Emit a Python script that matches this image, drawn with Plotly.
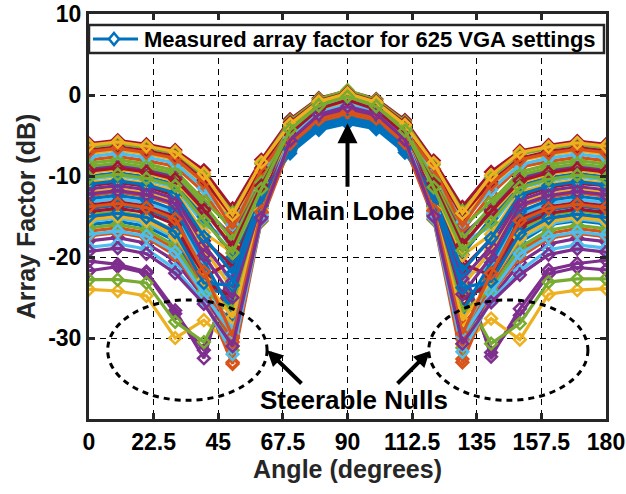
import plotly.graph_objects as go

# ---------------- data ----------------
angles = [0, 10, 20, 30, 40, 50, 60, 70, 80, 90, 100, 110, 120, 130, 140, 150, 160, 170, 180]

x_tick_vals = [0, 22.5, 45, 67.5, 90, 112.5, 135, 157.5, 180]
x_tick_text = ["0", "22.5", "45", "67.5", "90", "112.5", "135", "157.5", "180"]
y_tick_vals = [-30, -20, -10, 0, 10]
y_tick_text = ["-30", "-20", "-10", "0", "10"]

legend_name = "Measured array factor for 625 VGA settings"

# array factor (dB) of a subset of the measured VGA settings
vga_01 = [-9.0, -8.6, -9.1, -10.0, -14.0, -19.0, -12.5, -7.2, -4.3, -3.5, -4.2, -7.1, -12.3, -18.6, -14.3, -10.2, -9.2, -8.7, -9.1]
vga_02 = [-12.4, -12.0, -12.5, -13.6, -19.5, -33.0, -15.0, -6.5, -3.6, -2.6, -3.5, -6.4, -14.8, -32.6, -19.8, -13.8, -12.6, -12.1, -12.5]
vga_03 = [-7.2, -6.8, -7.3, -8.0, -11.0, -15.5, -9.5, -4.8, -2.0, -1.0, -1.9, -4.7, -9.3, -15.2, -11.2, -8.1, -7.4, -6.9, -7.3]
vga_04 = [-20.5, -20.9, -21.8, -26.6, -32.5, -20.5, -14.5, -6.0, -3.0, -2.0, -2.9, -5.9, -14.3, -20.8, -32.3, -26.4, -21.6, -20.8, -20.4]
vga_05 = [-14.8, -14.4, -15.0, -16.8, -23.5, -31.5, -15.6, -5.5, -1.5, -0.6, -1.6, -5.4, -15.4, -31.2, -23.2, -16.6, -14.8, -14.3, -14.7]
vga_06 = [-10.4, -10.0, -10.5, -11.4, -16.0, -18.0, -11.0, -5.0, -2.3, -1.4, -2.2, -4.9, -10.8, -18.3, -16.2, -11.5, -10.6, -10.1, -10.5]
vga_07 = [-6.0, -5.6, -6.1, -6.8, -9.3, -14.0, -8.0, -3.0, -0.4, 0.5, -0.5, -3.1, -8.1, -13.8, -9.5, -6.9, -6.2, -5.7, -6.1]
vga_08 = [-16.0, -15.6, -16.2, -18.0, -24.0, -24.5, -13.5, -6.8, -4.0, -3.2, -3.9, -6.7, -13.3, -24.2, -24.3, -18.2, -16.0, -15.5, -15.9]
vga_09 = [-8.0, -7.6, -8.1, -8.8, -12.0, -17.0, -10.5, -5.6, -2.8, -1.9, -2.7, -5.5, -10.3, -16.8, -12.2, -8.9, -8.2, -7.7, -8.1]
vga_10 = [-24.0, -24.2, -24.8, -30.0, -27.8, -31.0, -15.0, -5.8, -2.5, -1.5, -2.4, -5.7, -14.8, -30.8, -27.6, -30.2, -24.6, -24.1, -23.9]
vga_11 = [-21.7, -21.2, -22.0, -27.0, -31.5, -22.0, -14.0, -6.2, -3.2, -2.2, -3.1, -6.1, -13.8, -22.3, -31.8, -27.2, -22.1, -21.3, -21.6]
vga_12 = [-22.8, -22.8, -23.2, -28.0, -30.5, -24.0, -15.0, -5.2, -1.8, -0.8, -1.7, -5.1, -14.9, -24.3, -30.7, -28.2, -23.1, -22.7, -22.7]
vga_13 = [-13.2, -12.8, -13.3, -14.6, -21.0, -22.5, -12.0, -5.3, -2.4, -1.6, -2.3, -5.2, -11.8, -22.2, -21.3, -14.8, -13.4, -12.9, -13.3]
vga_14 = [-11.2, -10.8, -11.3, -12.4, -18.0, -21.0, -12.5, -4.5, -1.8, -0.8, -1.9, -4.6, -12.3, -21.4, -17.8, -12.6, -11.4, -10.9, -11.2]
vga_15 = [-14.0, -13.6, -14.1, -15.6, -22.0, -26.0, -13.0, -6.6, -3.8, -3.0, -3.7, -6.5, -12.8, -26.3, -22.2, -15.8, -14.2, -13.7, -14.1]
vga_16 = [-16.8, -16.4, -17.0, -19.0, -24.5, -28.0, -14.5, -6.0, -3.0, -2.2, -2.9, -5.9, -14.3, -28.4, -24.3, -19.2, -17.1, -16.5, -16.9]
vga_17 = [-12.0, -11.6, -12.1, -13.2, -19.0, -24.0, -13.0, -4.2, -1.2, -0.2, -1.3, -4.3, -12.8, -23.6, -19.2, -13.4, -12.2, -11.7, -12.0]
vga_18 = [-18.0, -17.6, -18.3, -20.5, -25.0, -30.0, -15.0, -5.4, -2.2, -1.3, -2.1, -5.3, -14.8, -29.6, -25.2, -20.7, -18.4, -17.7, -18.1]
vga_19 = [-8.4, -8.0, -8.5, -9.3, -13.0, -16.5, -10.0, -3.8, -0.9, 0.1, -1.0, -3.9, -9.8, -16.3, -13.2, -9.5, -8.6, -8.1, -8.5]
vga_20 = [-15.6, -15.2, -15.8, -17.6, -23.0, -29.0, -14.8, -5.1, -2.0, -1.1, -1.9, -5.0, -14.6, -29.4, -23.2, -17.8, -15.9, -15.3, -15.7]
vga_21 = [-13.6, -13.2, -13.7, -15.0, -22.5, -20.5, -12.2, -4.6, -1.6, -0.7, -1.7, -4.7, -12.0, -20.8, -22.3, -15.2, -13.8, -13.3, -13.7]
vga_22 = [-10.0, -9.6, -10.1, -11.0, -15.0, -20.0, -12.0, -6.9, -4.1, -3.3, -4.0, -6.8, -11.8, -19.7, -15.2, -11.2, -10.2, -9.7, -10.1]
vga_23 = [-17.4, -17.0, -17.6, -19.8, -24.8, -33.2, -15.5, -6.3, -3.3, -2.4, -3.2, -6.2, -15.3, -33.0, -24.6, -20.0, -17.7, -17.1, -17.5]
vga_24 = [-9.6, -9.2, -9.7, -10.6, -14.5, -18.5, -11.5, -5.2, -2.3, -1.2, -2.2, -5.1, -11.3, -18.2, -14.7, -10.8, -9.8, -9.3, -9.7]
vga_25 = [-11.6, -11.2, -11.7, -12.8, -18.5, -23.0, -12.8, -5.7, -2.6, -1.7, -2.5, -5.6, -12.6, -22.7, -18.7, -13.0, -11.8, -11.3, -11.7]
vga_26 = [-6.4, -6.0, -6.5, -7.2, -10.0, -14.5, -8.5, -3.2, -0.5, 0.6, -0.6, -3.3, -8.6, -14.3, -10.2, -7.3, -6.6, -6.1, -6.5]
vga_27 = [-18.8, -18.4, -19.0, -21.5, -25.5, -32.0, -15.4, -4.9, -1.9, -0.9, -1.8, -4.8, -15.2, -31.7, -25.3, -21.7, -19.1, -18.5, -18.9]
vga_28 = [-14.4, -14.0, -14.5, -16.0, -23.0, -25.0, -13.6, -4.3, -1.3, -0.3, -1.4, -4.4, -13.4, -25.3, -23.2, -16.2, -14.6, -14.1, -14.5]
vga_29 = [-12.8, -12.4, -12.9, -14.2, -20.5, -27.0, -13.8, -6.4, -3.6, -2.8, -3.5, -6.3, -13.6, -26.7, -20.7, -14.4, -13.0, -12.5, -12.9]
vga_30 = [-15.2, -14.8, -15.3, -17.2, -23.8, -30.5, -14.6, -6.1, -3.1, -2.3, -3.0, -6.0, -14.4, -30.2, -23.6, -17.4, -15.4, -14.9, -15.3]
vga_31 = [-10.8, -10.4, -10.9, -11.8, -17.0, -19.5, -11.8, -4.0, -1.0, 0.0, -1.1, -4.1, -11.6, -19.8, -17.2, -12.0, -11.0, -10.5, -10.9]
vga_32 = [-9.2, -8.8, -9.3, -10.2, -14.0, -17.5, -11.0, -5.9, -3.0, -2.0, -2.9, -5.8, -10.8, -17.3, -14.2, -10.4, -9.4, -8.9, -9.3]
vga_33 = [-16.4, -16.0, -16.6, -18.6, -24.2, -26.5, -14.0, -4.7, -1.7, -0.5, -1.6, -4.8, -13.8, -26.8, -24.0, -18.8, -16.7, -16.1, -16.5]
vga_34 = [-7.6, -7.2, -7.7, -8.4, -11.5, -16.0, -9.8, -4.4, -1.5, -0.5, -1.4, -4.3, -9.6, -15.7, -11.7, -8.6, -7.8, -7.3, -7.7]
vga_35 = [-6.8, -6.4, -6.9, -7.6, -10.5, -15.0, -9.0, -3.4, -0.7, 0.3, -0.8, -3.5, -9.2, -14.8, -10.7, -7.8, -7.0, -6.5, -6.9]
vga_36 = [-11.0, -10.6, -11.1, -12.1, -17.5, -22.0, -12.6, -6.7, -3.9, -3.1, -3.8, -6.6, -12.4, -21.7, -17.7, -12.3, -11.2, -10.7, -11.1]
vga_37 = [-7.0, -6.6, -7.1, -7.8, -10.8, -16.5, -9.3, -4.6, -1.9, -0.9, -1.8, -4.5, -9.1, -16.2, -11.0, -8.0, -7.2, -6.7, -7.1]
vga_38 = [-15.4, -15.0, -15.5, -17.4, -22.8, -27.5, -14.2, -5.0, -1.9, -0.9, -1.8, -4.9, -14.0, -27.8, -23.0, -17.6, -15.6, -15.1, -15.5]
vga_39 = [-12.2, -11.8, -12.3, -13.4, -19.8, -25.0, -13.3, -5.6, -2.5, -1.6, -2.4, -5.5, -13.1, -24.6, -20.0, -13.6, -12.4, -11.9, -12.3]
vga_40 = [-8.8, -8.4, -8.9, -9.7, -13.5, -18.0, -10.8, -4.1, -1.1, -0.1, -1.2, -4.2, -10.6, -17.8, -13.7, -9.9, -9.0, -8.5, -8.9]
vga_41 = [-17.2, -16.8, -17.4, -19.4, -24.6, -29.5, -14.8, -5.3, -2.1, -1.2, -2.0, -5.2, -14.6, -29.8, -24.4, -19.6, -17.5, -16.9, -17.3]
vga_42 = [-9.4, -9.0, -9.5, -10.4, -14.2, -18.8, -11.2, -4.8, -1.7, -0.6, -1.8, -4.9, -11.0, -18.5, -14.4, -10.6, -9.6, -9.1, -9.5]
vga_43 = [-15.0, -14.6, -15.1, -16.9, -23.2, -23.5, -13.2, -6.7, -3.9, -3.1, -3.8, -6.6, -13.0, -23.8, -23.0, -17.1, -15.2, -14.7, -15.1]
vga_44 = [-13.8, -13.4, -13.9, -15.3, -21.8, -29.8, -14.4, -6.0, -3.0, -2.1, -2.9, -5.9, -14.2, -29.5, -22.0, -15.5, -14.0, -13.5, -13.9]
vga_45 = [-6.2, -5.8, -6.3, -7.0, -9.7, -14.8, -8.3, -3.6, -0.8, 0.2, -0.9, -3.7, -8.4, -14.6, -9.9, -7.1, -6.4, -5.9, -6.3]
vga_46 = [-19.3, -18.9, -19.6, -22.0, -25.8, -31.0, -15.2, -5.6, -2.4, -1.4, -2.3, -5.5, -15.0, -30.7, -25.6, -22.2, -19.7, -19.0, -19.4]
vga_47 = [-10.2, -9.8, -10.3, -11.2, -15.5, -19.5, -11.6, -4.3, -1.3, -0.2, -1.4, -4.4, -11.4, -19.2, -15.7, -11.4, -10.4, -9.9, -10.3]

curves = [vga_01, vga_02, vga_03, vga_04, vga_05, vga_06, vga_07, vga_08, vga_09, vga_10,
          vga_11, vga_12, vga_13, vga_14, vga_15, vga_16, vga_17, vga_18, vga_19, vga_20,
          vga_21, vga_22, vga_23, vga_24, vga_25, vga_26, vga_27, vga_28, vga_29, vga_30,
          vga_31, vga_32, vga_33, vga_34, vga_35, vga_36, vga_37, vga_38, vga_39, vga_40,
          vga_41, vga_42, vga_43, vga_44, vga_45, vga_46, vga_47]

# ---------------- style ----------------
matlab_colors = ["#0072BD", "#D95319", "#EDB120", "#7E2F8E", "#77AC30", "#4DBEEE", "#A2142F"]
FONT = "Liberation Sans, Arial, Helvetica, sans-serif"
AXC = "#262626"

fig = go.Figure()
for i, af in enumerate(curves):
    c = matlab_colors[i % len(matlab_colors)]
    fig.add_trace(go.Scatter(
        x=angles, y=af, mode="lines+markers",
        line=dict(color=c, width=3.2),
        marker=dict(symbol="diamond-open", size=9, color=c, line=dict(width=2.5, color=c)),
        name=legend_name, showlegend=False,
    ))

axis_common = dict(
    showline=True, linewidth=3, linecolor=AXC, mirror="ticks",
    ticks="inside", ticklen=6, tickwidth=3, tickcolor=AXC,
    showgrid=True, gridcolor="black", gridwidth=1.2, griddash="6px,5px",
    zeroline=False, automargin=False,
    tickfont=dict(family=FONT, size=23, color="black", weight="bold"),
)

fig.update_xaxes(range=[0, 180], tickvals=x_tick_vals, ticktext=x_tick_text,
                 title=dict(text="Angle (degrees)", standoff=6,
                            font=dict(family=FONT, size=25, color=AXC, weight="bold")),
                 **axis_common)
fig.update_yaxes(range=[-40, 10], tickvals=y_tick_vals, ticktext=y_tick_text,
                 title=dict(text="Array Factor (dB)", standoff=6,
                            font=dict(family=FONT, size=25, color=AXC, weight="bold")),
                 **axis_common)

ann_font = dict(family=FONT, size=26, color="black", weight="bold")

# legend box drawn as layout decoration (paper coordinates)
PL, PR, PT, PB = 89, 606, 14, 419          # plot area in pixels
def px_x(p): return (p - PL) / (PR - PL)
def px_y(p): return (PB - p) / (PB - PT)

annotations = [
    dict(x=91.2, y=-14.3, xref="x", yref="y", text="Main Lobe", showarrow=False, font=ann_font),
    dict(x=92.3, y=-37.6, xref="x", yref="y", text="Steerable Nulls", showarrow=False, font=ann_font),
    dict(x=90, y=-3.5, ax=90, ay=-11.5, xref="x", yref="y", axref="x", ayref="y", text="",
         showarrow=True, arrowhead=2, arrowsize=1, arrowwidth=4, arrowcolor="black"),
    dict(x=62.0, y=-31.5, ax=74.5, ay=-35.8, xref="x", yref="y", axref="x", ayref="y", text="",
         showarrow=True, arrowhead=2, arrowsize=0.8, arrowwidth=4, arrowcolor="black"),
    dict(x=118.7, y=-31.6, ax=106.9, ay=-35.8, xref="x", yref="y", axref="x", ayref="y", text="",
         showarrow=True, arrowhead=2, arrowsize=0.8, arrowwidth=4, arrowcolor="black"),
    dict(x=px_x(142), y=px_y(39.5), xref="paper", yref="paper", xanchor="left", yanchor="middle",
         text=legend_name, showarrow=False,
         font=dict(family=FONT, size=22, color="black", weight="bold")),
]

shapes = [
    dict(type="circle", xref="x", yref="y", x0=6.5, x1=62.0, y0=-37.7, y1=-25.3,
         line=dict(color="black", width=3, dash="6px,5px")),
    dict(type="circle", xref="x", yref="y", x0=118.3, x1=173.7, y0=-37.7, y1=-25.3,
         line=dict(color="black", width=3, dash="6px,5px")),
    # legend frame
    dict(type="rect", xref="paper", yref="paper", x0=px_x(PL), x1=px_x(604), y0=px_y(53), y1=px_y(25),
         line=dict(color=AXC, width=2.5), fillcolor="white", layer="above"),
    # legend sample line
    dict(type="line", xref="paper", yref="paper", x0=px_x(93), x1=px_x(138), y0=px_y(39), y1=px_y(39),
         line=dict(color=matlab_colors[0], width=3), layer="above"),
    # legend sample diamond marker
    dict(type="path", xref="paper", yref="paper", xsizemode="pixel", ysizemode="pixel",
         xanchor=px_x(114), yanchor=px_y(39), path="M0,6 L5,0 L0,-6 L-5,0 Z",
         line=dict(color=matlab_colors[0], width=2.5), fillcolor="white", layer="above"),
]

fig.update_layout(
    width=626, height=494,
    margin=dict(l=PL, r=626 - PR, t=PT, b=494 - PB),
    plot_bgcolor="white", paper_bgcolor="white",
    showlegend=False,
    annotations=annotations,
    shapes=shapes,
)

fig.write_html("out.html", config={"displayModeBar": False},
               post_script="document.body.style.margin='0';document.body.style.padding='0';")
